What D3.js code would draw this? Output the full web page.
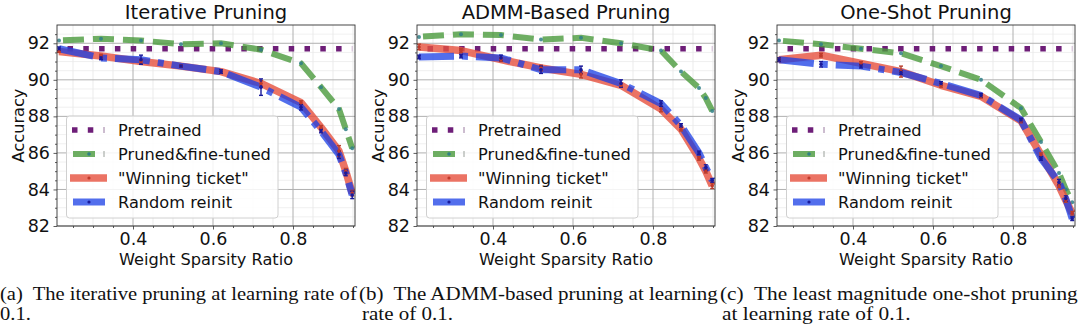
<!DOCTYPE html>
<html><head><meta charset="utf-8">
<script src="https://cdn.jsdelivr.net/npm/d3@7"></script>
<style>html,body{margin:0;padding:0;background:#fff;} svg{display:block;}</style>
</head><body>
<script>
// ---------------- data ----------------
const sparsity = [0.215, 0.32, 0.42, 0.52, 0.62, 0.72, 0.82, 0.87, 0.915, 0.932, 0.948];
const pretrainedAcc = 91.7;

const iterPruned  = [92.15, 92.25, 92.15, 91.95, 92.0, 91.65, 90.9, 89.6, 88.4, 87.3, 86.25];
const iterWinning = [91.55, 91.3, 91.0, 90.75, 90.45, 89.8, 88.75, 87.4, 86.1, 85.0, 83.8];
const iterRandom  = [91.7, 91.2, 91.1, 90.75, 90.45, 89.6, 88.5, 87.2, 85.9, 84.9, 83.7];
const iterWinErr  = [0.05, 0.1, 0.1, 0.05, 0.05, 0.15, 0.1, 0.1, 0.3, 0.15, 0.15];
const iterRandErr = [0.1, 0.1, 0.25, 0.05, 0.1, 0.45, 0.15, 0.1, 0.2, 0.15, 0.2];

const admmPruned  = [92.35, 92.5, 92.45, 92.2, 92.3, 92.0, 91.6, 90.45, 89.55, 89.0, 88.3];
const admmWinning = [91.8, 91.6, 91.1, 90.65, 90.3, 89.7, 88.4, 87.3, 85.7, 85.0, 84.2];
const admmRandom  = [91.25, 91.3, 91.2, 90.55, 90.55, 89.8, 88.7, 87.5, 86.0, 85.2, 84.5];
const admmWinErr  = [0.15, 0.1, 0.1, 0.15, 0.2, 0.1, 0.15, 0.1, 0.1, 0.1, 0.15];
const admmRandErr = [0.1, 0.1, 0.15, 0.2, 0.2, 0.2, 0.15, 0.1, 0.1, 0.15, 0.1];

const oneShotPruned  = [92.15, 91.95, 91.7, 91.45, 90.75, 90.0, 88.45, 86.6, 84.9, 84.0, 83.3];
const oneShotWinning = [91.1, 91.35, 90.9, 90.45, 89.7, 89.1, 87.75, 85.9, 84.2, 83.4, 82.7];
const oneShotRandom  = [91.1, 90.85, 90.75, 90.4, 89.8, 89.15, 87.8, 85.7, 84.4, 83.5, 82.4];
const oneShotWinErr  = [0.1, 0.1, 0.1, 0.3, 0.1, 0.1, 0.1, 0.1, 0.1, 0.1, 0.1];
const oneShotRandErr = [0.1, 0.15, 0.1, 0.1, 0.1, 0.1, 0.1, 0.1, 0.15, 0.15, 0.1];

const panelTitles = ["Iterative Pruning", "ADMM-Based Pruning", "One-Shot Pruning"];
const yTicks = [82, 84, 86, 88, 90, 92];
const xTicks = [0.4, 0.6, 0.8];
const legendLabels = ["Pretrained", "Pruned&fine-tuned", "\"Winning ticket\"", "Random reinit"];
const xLabel = "Weight Sparsity Ratio";
const yLabel = "Accuracy";
const captionLine1 = ["(a)\u00a0 The iterative pruning at learning rate of",
                      "(b)\u00a0 The ADMM-based pruning at learning",
                      "(c)\u00a0 The least magnitude one-shot pruning"];
const captionLine2 = ["0.1.", "rate of 0.1.", "at learning rate of 0.1."];

const panels = [
  {pruned: iterPruned, win: iterWinning, rand: iterRandom, winErr: iterWinErr, randErr: iterRandErr},
  {pruned: admmPruned, win: admmWinning, rand: admmRandom, winErr: admmWinErr, randErr: admmRandErr},
  {pruned: oneShotPruned, win: oneShotWinning, rand: oneShotRandom, winErr: oneShotWinErr, randErr: oneShotRandErr}
];

// ---------------- styles ----------------
const C = {
  pre: "#6e1e78",
  pruned: "#4a9a3c", prunedMk: "#2f7f86",
  win: "#e6503d", winMk: "#c0392b", winErr: "#b8402e",
  rand: "#183de6", randMk: "#1a1a9a", randErr: "#1a1a9a"
};
const W = 1080, H = 325;
const FONT = "DejaVu Sans, Verdana, sans-serif";

const svg = d3.select("body").append("svg").attr("width", W).attr("height", H);
svg.append("rect").attr("width", W).attr("height", H).attr("fill", "#fff");

panels.forEach((p, i) => {
  const g = svg.append("g").attr("transform", `translate(${360 * i},0)`);
  const x = d3.scaleLinear().domain([0.21, 0.955]).range([57, 355]);
  const y = d3.scaleLinear().domain([82, 93]).range([226, 25]);
  const [x0, x1] = x.range(), [y1, y0] = y.range();

  const cid = "clip" + i;
  g.append("clipPath").attr("id", cid).append("rect")
    .attr("x", x0).attr("y", y0).attr("width", x1 - x0).attr("height", y1 - y0);

  // minor grid
  const xMinor = d3.range(0.25, 0.955, 0.05).filter(v => !xTicks.some(t => Math.abs(t - v) < 1e-6));
  const yMinor = d3.range(82.5, 93, 0.5).filter(v => !yTicks.some(t => Math.abs(t - v) < 1e-6));
  const grid = g.append("g");
  grid.selectAll(".xm").data(xMinor).join("line")
    .attr("x1", d => x(d)).attr("x2", d => x(d)).attr("y1", y0).attr("y2", y1)
    .attr("stroke", "#e2e2e2").attr("stroke-width", 0.7);
  grid.selectAll(".ym").data(yMinor).join("line")
    .attr("y1", d => y(d)).attr("y2", d => y(d)).attr("x1", x0).attr("x2", x1)
    .attr("stroke", "#eaeaea").attr("stroke-width", 0.7);
  grid.selectAll(".xM").data(xTicks).join("line")
    .attr("x1", d => x(d)).attr("x2", d => x(d)).attr("y1", y0).attr("y2", y1)
    .attr("stroke", "#b0b0b0").attr("stroke-width", 1);
  grid.selectAll(".yM").data(yTicks).join("line")
    .attr("y1", d => y(d)).attr("y2", d => y(d)).attr("x1", x0).attr("x2", x1)
    .attr("stroke", "#b0b0b0").attr("stroke-width", 1);

  const plot = g.append("g").attr("clip-path", `url(#${cid})`);
  const line = d3.line().x(d => x(d[0])).y(d => y(d[1]));

  // pretrained
  plot.append("path")
    .attr("d", line([[sparsity[0], pretrainedAcc], [sparsity[sparsity.length - 1], pretrainedAcc]]))
    .attr("fill", "none").attr("stroke", C.pre).attr("stroke-width", 5.5)
    .attr("stroke-dasharray", "5.5 10.3").attr("stroke-dashoffset", 7.3);

  // pruned & fine-tuned
  const prunedPts = sparsity.map((s, k) => [s, p.pruned[k]]);
  plot.append("path").attr("d", line(prunedPts))
    .attr("fill", "none").attr("stroke", C.pruned).attr("stroke-width", 6)
    .attr("stroke-opacity", 0.8).attr("stroke-dasharray", "21 9").attr("stroke-dashoffset", -4);
  plot.selectAll(".pm").data(prunedPts).join("circle")
    .attr("cx", d => x(d[0])).attr("cy", d => y(d[1])).attr("r", 2)
    .attr("fill", C.prunedMk).attr("opacity", 0.85);

  // winning ticket
  const winPts = sparsity.map((s, k) => [s, p.win[k], p.winErr[k]]);
  plot.append("path").attr("d", line(winPts))
    .attr("fill", "none").attr("stroke", C.win).attr("stroke-width", 7.5)
    .attr("stroke-opacity", 0.8).attr("stroke-linejoin", "round");
  // random reinit
  const randPts = sparsity.map((s, k) => [s, p.rand[k], p.randErr[k]]);
  plot.append("path").attr("d", line(randPts))
    .attr("fill", "none").attr("stroke", C.rand).attr("stroke-width", 7)
    .attr("stroke-opacity", 0.75).attr("stroke-dasharray", "35 8 6 8");

  // error bars
  const drawErr = (pts, col) => {
    const eg = plot.append("g").attr("stroke", col).attr("stroke-width", 1.4);
    pts.forEach(d => {
      const xs = x(d[0]), ya = y(d[1] - d[2]), yb = y(d[1] + d[2]);
      eg.append("line").attr("x1", xs).attr("x2", xs).attr("y1", ya).attr("y2", yb);
      eg.append("line").attr("x1", xs - 2).attr("x2", xs + 2).attr("y1", ya).attr("y2", ya);
      eg.append("line").attr("x1", xs - 2).attr("x2", xs + 2).attr("y1", yb).attr("y2", yb);
    });
  };
  drawErr(winPts, C.winErr);
  drawErr(randPts, C.randErr);
  plot.selectAll(".wm").data(winPts).join("circle")
    .attr("cx", d => x(d[0])).attr("cy", d => y(d[1])).attr("r", 1.8).attr("fill", C.winMk);
  plot.selectAll(".rm").data(randPts).join("circle")
    .attr("cx", d => x(d[0])).attr("cy", d => y(d[1])).attr("r", 1.8).attr("fill", C.randMk);

  // frame
  g.append("rect").attr("x", x0).attr("y", y0).attr("width", x1 - x0).attr("height", y1 - y0)
    .attr("fill", "none").attr("stroke", "#333").attr("stroke-width", 0.9);

  // axes
  const ya = g.append("g").attr("transform", `translate(${x0},0)`)
    .call(d3.axisLeft(y).tickValues(yTicks).tickSize(3.5).tickPadding(3.5).tickFormat(d3.format("d")));
  const ym = g.append("g").attr("transform", `translate(${x0},0)`)
    .call(d3.axisLeft(y).tickValues(yMinor).tickSize(2).tickFormat(""));
  const xa = g.append("g").attr("transform", `translate(0,${y1})`)
    .call(d3.axisBottom(x).tickValues(xTicks).tickSize(3.5).tickPadding(3.5).tickFormat(d3.format(".1f")));
  const xm = g.append("g").attr("transform", `translate(0,${y1})`)
    .call(d3.axisBottom(x).tickValues(xMinor).tickSize(2).tickFormat(""));
  [ya, ym, xa, xm].forEach(a => {
    a.select(".domain").remove();
    a.selectAll("line").attr("stroke", "#333").attr("stroke-width", 0.8);
    a.selectAll("text").attr("font-family", FONT).attr("font-size", 17.5).attr("fill", "#111");
  });

  // labels
  g.append("text").attr("x", (x0 + x1) / 2).attr("y", 19).attr("text-anchor", "middle")
    .attr("font-family", FONT).attr("font-size", 19.5).attr("fill", "#111").text(panelTitles[i]);
  g.append("text").attr("x", (x0 + x1) / 2).attr("y", 265).attr("text-anchor", "middle")
    .attr("font-family", FONT).attr("font-size", 16.2).attr("fill", "#111").text(xLabel);
  g.append("text").attr("transform", `translate(24,${(y0 + y1) / 2}) rotate(-90)`)
    .attr("text-anchor", "middle")
    .attr("font-family", FONT).attr("font-size", 16.2).attr("fill", "#111").text(yLabel);

  // legend
  const lg = g.append("g");
  lg.append("rect").attr("x", 66.5).attr("y", 116).attr("width", 211.5).attr("height", 102)
    .attr("rx", 3).attr("fill", "#fff").attr("fill-opacity", 0.85)
    .attr("stroke", "#d0d0d0").attr("stroke-width", 1);
  const rows = [130, 154, 178, 202];
  // pretrained handle
  lg.append("line").attr("x1", 72).attr("x2", 99).attr("y1", rows[0]).attr("y2", rows[0])
    .attr("stroke", C.pre).attr("stroke-width", 5.5).attr("stroke-dasharray", "5.5 10.3");
  lg.append("line").attr("x1", 104).attr("x2", 104).attr("y1", rows[0] - 3).attr("y2", rows[0] + 3)
    .attr("stroke", "#9a7aa0").attr("stroke-width", 1);
  // pruned handle
  lg.append("line").attr("x1", 73).attr("x2", 95).attr("y1", rows[1]).attr("y2", rows[1])
    .attr("stroke", C.pruned).attr("stroke-width", 6).attr("stroke-opacity", 0.8);
  lg.append("circle").attr("cx", 89).attr("cy", rows[1]).attr("r", 1.8).attr("fill", C.prunedMk);
  lg.append("line").attr("x1", 104).attr("x2", 104).attr("y1", rows[1] - 3).attr("y2", rows[1] + 3)
    .attr("stroke", "#9aa09a").attr("stroke-width", 1);
  // winning handle
  lg.append("line").attr("x1", 70).attr("x2", 107).attr("y1", rows[2]).attr("y2", rows[2])
    .attr("stroke", C.win).attr("stroke-width", 7.5).attr("stroke-opacity", 0.8);
  lg.append("circle").attr("cx", 89).attr("cy", rows[2]).attr("r", 1.6).attr("fill", C.winMk);
  // random handle
  lg.append("line").attr("x1", 73).attr("x2", 105).attr("y1", rows[3]).attr("y2", rows[3])
    .attr("stroke", C.rand).attr("stroke-width", 7).attr("stroke-opacity", 0.75);
  lg.append("circle").attr("cx", 89).attr("cy", rows[3]).attr("r", 1.6).attr("fill", C.randMk);
  legendLabels.forEach((t, k) => {
    lg.append("text").attr("x", 118).attr("y", rows[k] + 6)
      .attr("font-family", FONT).attr("font-size", 16.2).attr("fill", "#111").text(t);
  });
});

// captions
const capStarts = [0, 359, 720], capEnds = [357, 718, 1078], cap2Starts = [0, 362, 722];
captionLine1.forEach((t, i) => {
  const cg = svg.append("g");
  const t1 = cg.append("text").attr("x", 0).attr("y", 300)
    .attr("font-family", "Liberation Serif, Times New Roman, serif").attr("font-size", 19)
    .attr("fill", "#111").text(t);
  const natural = t1.node().getComputedTextLength();
  const sx = (capEnds[i] - capStarts[i]) / natural;
  t1.attr("transform", `translate(${capStarts[i]},0) scale(${sx},1)`);
  cg.append("text").attr("x", 0).attr("y", 320)
    .attr("transform", `translate(${cap2Starts[i]},0) scale(${sx},1)`)
    .attr("font-family", "Liberation Serif, Times New Roman, serif").attr("font-size", 19)
    .attr("fill", "#111").text(captionLine2[i]);
});
</script>
</body></html>
